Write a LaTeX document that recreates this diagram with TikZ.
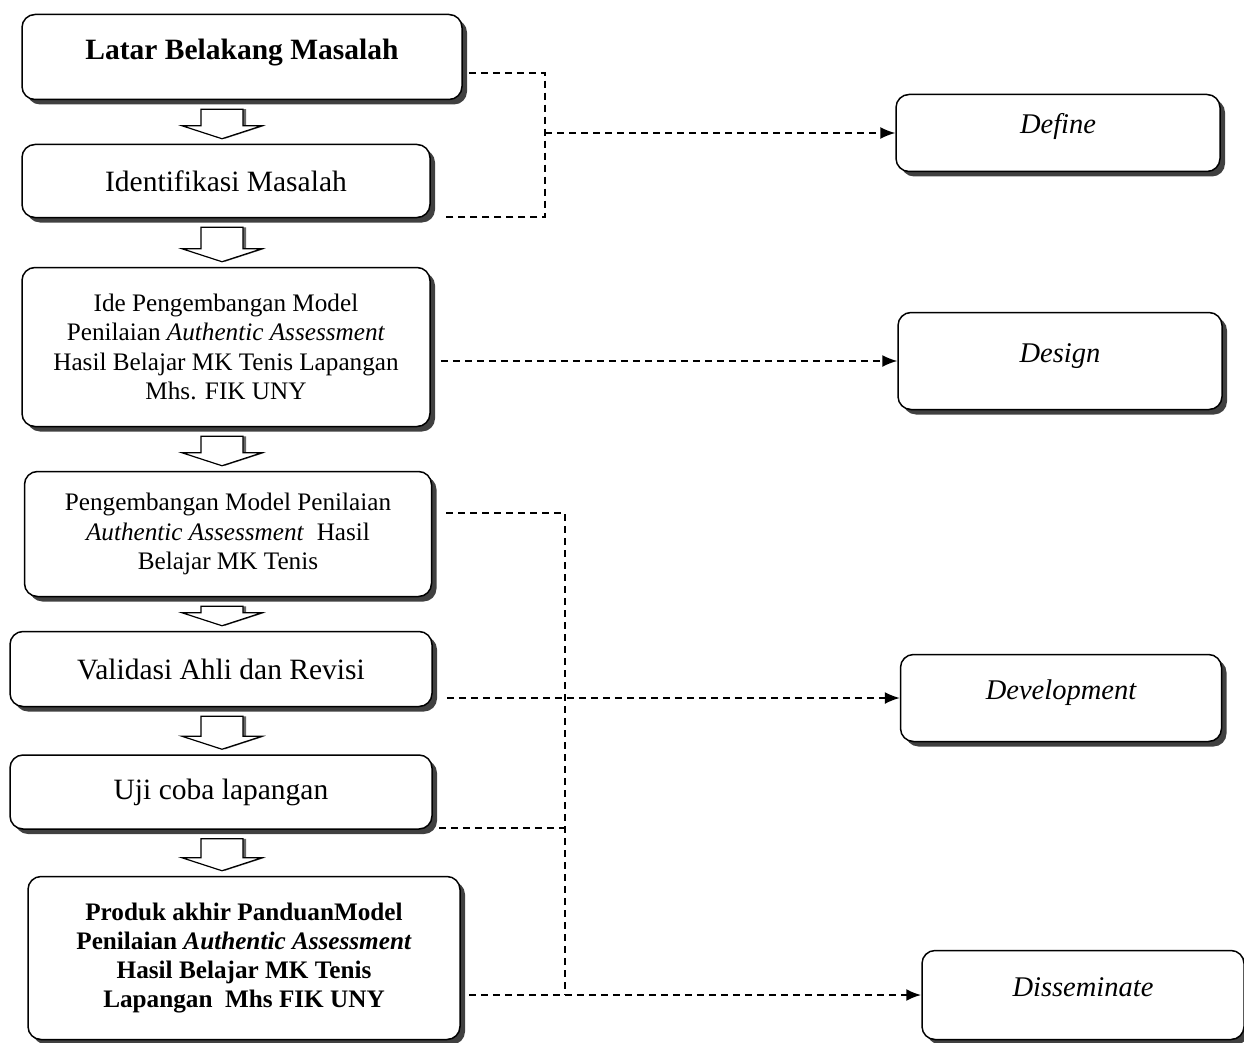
\documentclass[tikz,border=0pt]{standalone}
\usepackage{fontspec}
\setmainfont{Liberation Serif}
\usepackage{tikz}
\usetikzlibrary{shadows}
\usetikzlibrary{arrows.meta}
\usetikzlibrary{calc}

\begin{document}
\begin{tikzpicture}[x=1pt, y=1pt,
  box/.style={draw, line width=1.5, rounded corners=13, fill=white, align=center, inner sep=0pt,
    drop shadow={shadow xshift=5pt, shadow yshift=-5pt, fill=black!75, opacity=1}},
  bigtxt/.style={font=\fontsize{29.5}{34}\selectfont},
  smalltxt/.style={font=\fontsize{25.2}{29.3}\selectfont},
  phase/.style={box, font=\fontsize{28.5}{32}\selectfont\itshape, text height=20pt, text depth=18pt},
  dashline/.style={line width=1.5, dash pattern=on 7pt off 5pt},
  dasharrow/.style={dashline, -{Latex[length=15pt, width=12pt]}},
  blockarrow/.style={line width=1.2, fill=white,
    drop shadow={shadow xshift=3pt, shadow yshift=0pt, fill=black!60, opacity=1}}]
\useasboundingbox (0,0) rectangle (1244,-1043);

\node[box, bigtxt, minimum width=440, minimum height=85, text depth=16pt] (latar) at (242,-57) {\textbf{Latar Belakang Masalah}};
\node[box, bigtxt, minimum width=408, minimum height=73] (ident) at (226,-181) {Identifikasi Masalah};
\node[box, smalltxt, minimum width=408, minimum height=159] (ide) at (226,-347)
  {Ide Pengembangan Model\\Penilaian \textit{Authentic Assessment}\\Hasil Belajar MK Tenis Lapangan\\Mhs. FIK UNY};
\node[box, smalltxt, minimum width=407, minimum height=125] (kembang) at (228,-534)
  {Pengembangan Model Penilaian\\\textit{Authentic Assessment}\ \ Hasil\\Belajar MK Tenis};
\node[box, bigtxt, minimum width=422, minimum height=75] (validasi) at (221,-669) {Validasi Ahli dan Revisi};
\node[box, bigtxt, minimum width=422, minimum height=74] (ujicoba) at (221,-792) {Uji coba lapangan};
\node[box, smalltxt, minimum width=432, minimum height=163] (produk) at (244,-958)
  {\bfseries Produk akhir PanduanModel\\\bfseries Penilaian \textit{Authentic Assessment}\\\bfseries Hasil Belajar MK Tenis\\\bfseries Lapangan\ \ Mhs FIK UNY};

\node[phase, minimum width=324, minimum height=77] (define) at (1058,-133) {Define};
\node[phase, minimum width=324, minimum height=97] (design) at (1060,-361) {Design};
\node[phase, minimum width=321, minimum height=87] (develop) at (1061,-698) {Development};
\node[phase, minimum width=322, minimum height=89] (dissem) at (1083,-995) {Disseminate};

\foreach \a/\b in {latar/ident, ident/ide, ide/kembang, kembang/validasi, validasi/ujicoba, ujicoba/produk}
  \draw[blockarrow] let \p1=(\a.south), \p2=(\b.north) in
    (201,{\y1-9pt}) -- (243,{\y1-9pt}) -- (243,{\y2+18pt}) -- (262,{\y2+18pt}) -- (222,{\y2+5pt})
    -- (182,{\y2+18pt}) -- (201,{\y2+18pt}) -- cycle;

\coordinate (ka) at (545,-73);
\coordinate (kb) at (545,-217);
\coordinate (kc) at (565,-513);
\coordinate (kd) at (565,-995);
\coordinate (ke) at (565,-828);

\draw[dashline] ($(latar.east |- ka)+(6,0)$) -- (ka) -- (kb) -- ($(ident.east |- kb)+(12,0)$);
\draw[dasharrow] (ka |- define) -- (define.west);
\draw[dasharrow] ($(ide.east |- design)+(10,0)$) -- (design.west);
\draw[dashline] ($(kembang.east |- kc)+(14,0)$) -- (kc) -- (kd);
\draw[dasharrow] ($(validasi.east |- develop)+(14,0)$) -- (develop.west);
\draw[dashline] ($(ujicoba.east |- ke)+(6,0)$) -- (ke);
\draw[dasharrow, line width=2.3] ($(produk.east |- dissem)+(8,0)$) -- (dissem.west);
\end{tikzpicture}
\end{document}
